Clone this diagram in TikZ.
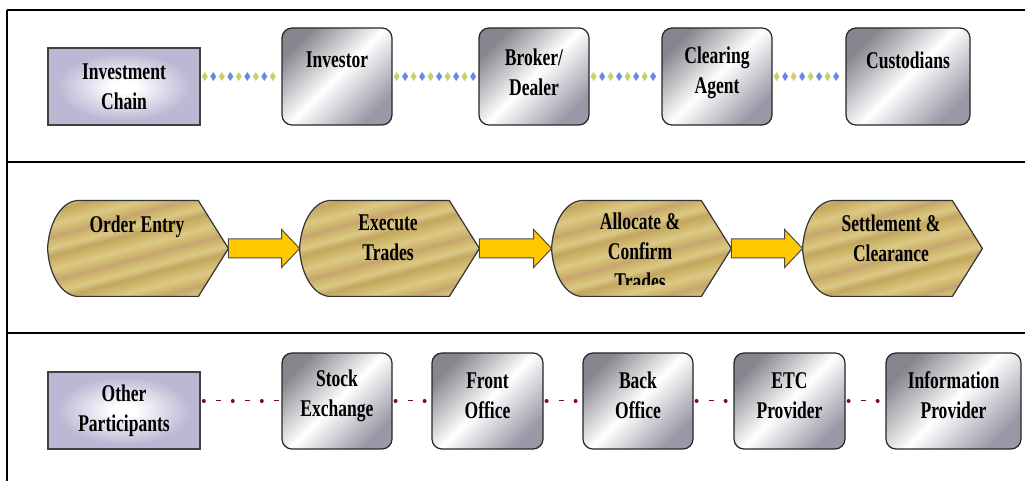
\documentclass[tikz,border=0pt]{standalone}
\usepackage{fontspec}
\setmainfont{Liberation Serif}[FakeStretch=0.73]
\usetikzlibrary{calc,decorations.markings}

\definecolor{cardedge}{HTML}{86868E}
\definecolor{cardedgeB}{HTML}{9A98A6}
\definecolor{lavender}{HTML}{BCB8D4}
\definecolor{goldL}{HTML}{DCC886}
\definecolor{goldM}{HTML}{CFB86C}
\definecolor{goldD}{HTML}{C2A660}
\definecolor{goldP}{HTML}{C6A474}
\definecolor{arrowgold}{HTML}{FFC800}
\definecolor{linkred}{HTML}{7A0A3A}
\definecolor{linkyellow}{HTML}{C8D06C}
\definecolor{linkblue}{HTML}{7484E2}

% soft glow for the row headers
\pgfdeclareradialshading{lavglow}{\pgfpoint{0bp}{0bp}}{%
  color(0bp)=(white); color(4bp)=(white); color(22bp)=(lavender); color(50bp)=(lavender)}

% streaky gold for the process stages
\pgfdeclareverticalshading{goldstripes}{100bp}{%
  color(0bp)=(goldM); color(3bp)=(goldL); color(6bp)=(goldM); color(8bp)=(goldP);
  color(10bp)=(goldM); color(13bp)=(goldL); color(16bp)=(goldM); color(19bp)=(goldD);
  color(22bp)=(goldL); color(25bp)=(goldM); color(27bp)=(goldP); color(29bp)=(goldM);
  color(32bp)=(goldL); color(35bp)=(goldM); color(38bp)=(goldD); color(41bp)=(goldL);
  color(44bp)=(goldM); color(46bp)=(goldP); color(48bp)=(goldM); color(51bp)=(goldL);
  color(54bp)=(goldM); color(57bp)=(goldD); color(60bp)=(goldL); color(63bp)=(goldM);
  color(65bp)=(goldP); color(67bp)=(goldM); color(70bp)=(goldL); color(73bp)=(goldM);
  color(76bp)=(goldD); color(79bp)=(goldL); color(82bp)=(goldM); color(84bp)=(goldP);
  color(86bp)=(goldM); color(89bp)=(goldL); color(92bp)=(goldM); color(95bp)=(goldD);
  color(98bp)=(goldL); color(100bp)=(goldM)}

\begin{document}
\begin{tikzpicture}[x=0.5pt, y=-0.5pt,
    rule/.style={line width=1pt},
    lbl/.style={align=center, inner sep=0pt, font=\fontsize{12pt}{15pt}\selectfont\bfseries},
    rowhead/.style={lbl, draw=black!75, line width=0.8pt, shading=lavglow,
        minimum width=76pt, minimum height=38.5pt},
    party/.style={draw=black!85, line width=0.6pt, rounded corners=5pt,
        left color=cardedge, right color=cardedgeB, middle color=white,
        shading angle=45, minimum width=55pt, minimum height=48.5pt, inner sep=0pt},
    stage/.style={minimum width=89.5pt, minimum height=47.5pt, inner sep=0pt},
    stagefill/.style={draw=black!80, line width=0.6pt, shading=goldstripes, shading angle=15},
    blockarrow/.style={draw=black!70, line width=0.5pt, fill=arrowgold},
    chainlink/.style={draw=none,
        postaction={decorate, decoration={markings,
            mark=between positions 2pt and -1pt step 8.5pt with
            {\fill[linkyellow] (-3,0) -- (0,4.5) -- (3,0) -- (0,-4.5) -- cycle;}}},
        postaction={decorate, decoration={markings,
            mark=between positions 6.25pt and -1pt step 8.5pt with
            {\fill[linkblue] (-3,0) -- (0,4.5) -- (3,0) -- (0,-4.5) -- cycle;}}}},
    dotlink/.style={draw=linkred, line width=0.5pt, dash pattern=on 2.5pt off 12pt,
        dash phase=6.75pt,
        postaction={draw=linkred, line width=2pt, line cap=round,
            dash pattern=on 0pt off 14.5pt, dash phase=13pt}}
]
    \useasboundingbox (0,0) rectangle (1025,481);

    % frame and row separators
    \draw[rule] (7,10) -- (1025,10);
    \draw[rule] (7,10) -- (7,481);
    \draw[rule] (7,162) -- (1025,162);
    \draw[rule] (7,333) -- (1025,333);

    % investment chain
    \node[rowhead] (chain) at (124,86.5) {Investment\\Chain};
    \node[party] (investor) at (337,76.5) {};
    \node[party] (broker) at (534,76.5) {};
    \node[party] (clearing) at (717,76.5) {};
    \node[party, minimum width=62pt] (custodians) at (908,76.5) {};
    \node[lbl] (investor-t) at (337,60) {Investor};
    \node[lbl] (broker-t) at (534,72.5) {Broker/\\Dealer};
    \node[lbl] (clearing-t) at (717,72.5) {Clearing\\Agent};
    \node[lbl] (custodians-t) at (908,60) {Custodians};

    \draw[chainlink] (chain.east |- investor.west) -- (investor.west);
    \draw[chainlink] (investor.east) -- (broker.west);
    \draw[chainlink] (broker.east) -- (clearing.west);
    \draw[chainlink] (clearing.east) -- (custodians.west);

    % trade process
    \node[stage, minimum width=90pt] (order) at (138,248.5) {};
    \node[stage] (execute) at (389.5,248.5) {};
    \node[stage] (allocate) at (641.5,248.5) {};
    \node[stage] (settle) at (892.5,248.5) {};

    \foreach \s in {order,execute,allocate,settle}
        \draw[stagefill] ($(\s.north west)+(29,0)$) -- ($(\s.north east)+(-30,0)$)
            -- (\s.east) -- ($(\s.south east)+(-30,0)$) -- ($(\s.south west)+(29,0)$)
            .. controls ($(\s.south west)+(12,-2)$) and ($(\s.west)+(1,23)$) .. (\s.west)
            .. controls ($(\s.west)+(1,-23)$) and ($(\s.north west)+(12,2)$) .. ($(\s.north west)+(29,0)$)
            -- cycle;

    \foreach \a/\b in {order/execute, execute/allocate, allocate/settle}
        \draw[blockarrow] ($(\a.east)+(0,-9.5)$) -- ($(\b.west)+(-18,-9.5)$)
            -- ($(\b.west)+(-18,-19)$) -- (\b.west) -- ($(\b.west)+(-18,19)$)
            -- ($(\b.west)+(-18,9.5)$) -- ($(\a.east)+(0,9.5)$) -- cycle;

    \node[lbl] (order-t) at (137,227) {Order Entry};
    \node[lbl] (execute-t) at (388,238) {Execute\\Trades};
    \begin{scope}
        \clip (552,201) rectangle (731,285);
        \node[lbl] (allocate-t) at (640,251) {Allocate \&\\Confirm\\Trades};
    \end{scope}
    \node[lbl] (settle-t) at (891,238) {Settlement \&\\Clearance};

    % other participants
    \node[rowhead] (other) at (124,410.5) {Other\\Participants};
    \node[party, minimum height=48pt] (stock) at (337,401) {};
    \node[party, minimum height=48pt, minimum width=55.5pt] (front) at (487.5,401) {};
    \node[party, minimum height=48pt] (back) at (638,401) {};
    \node[party, minimum height=48pt, minimum width=55.5pt] (etc) at (789.5,401) {};
    \node[party, minimum height=48pt, minimum width=67.5pt] (info) at (953.5,401) {};
    \node[lbl] (stock-t) at (337,395.5) {Stock\\Exchange};
    \node[lbl] (front-t) at (487.5,395.5) {Front\\Office};
    \node[lbl] (back-t) at (638,395.5) {Back\\Office};
    \node[lbl] (etc-t) at (789.5,395.5) {ETC\\Provider};
    \node[lbl] (info-t) at (953.5,395.5) {Information\\Provider};

    \draw[dotlink] (other.east |- stock.west) -- (stock.west);
    \draw[dotlink] (stock.east) -- (front.west);
    \draw[dotlink] (front.east) -- (back.west);
    \draw[dotlink] (back.east) -- (etc.west);
    \draw[dotlink] (etc.east) -- (info.west);

\end{tikzpicture}
\end{document}
